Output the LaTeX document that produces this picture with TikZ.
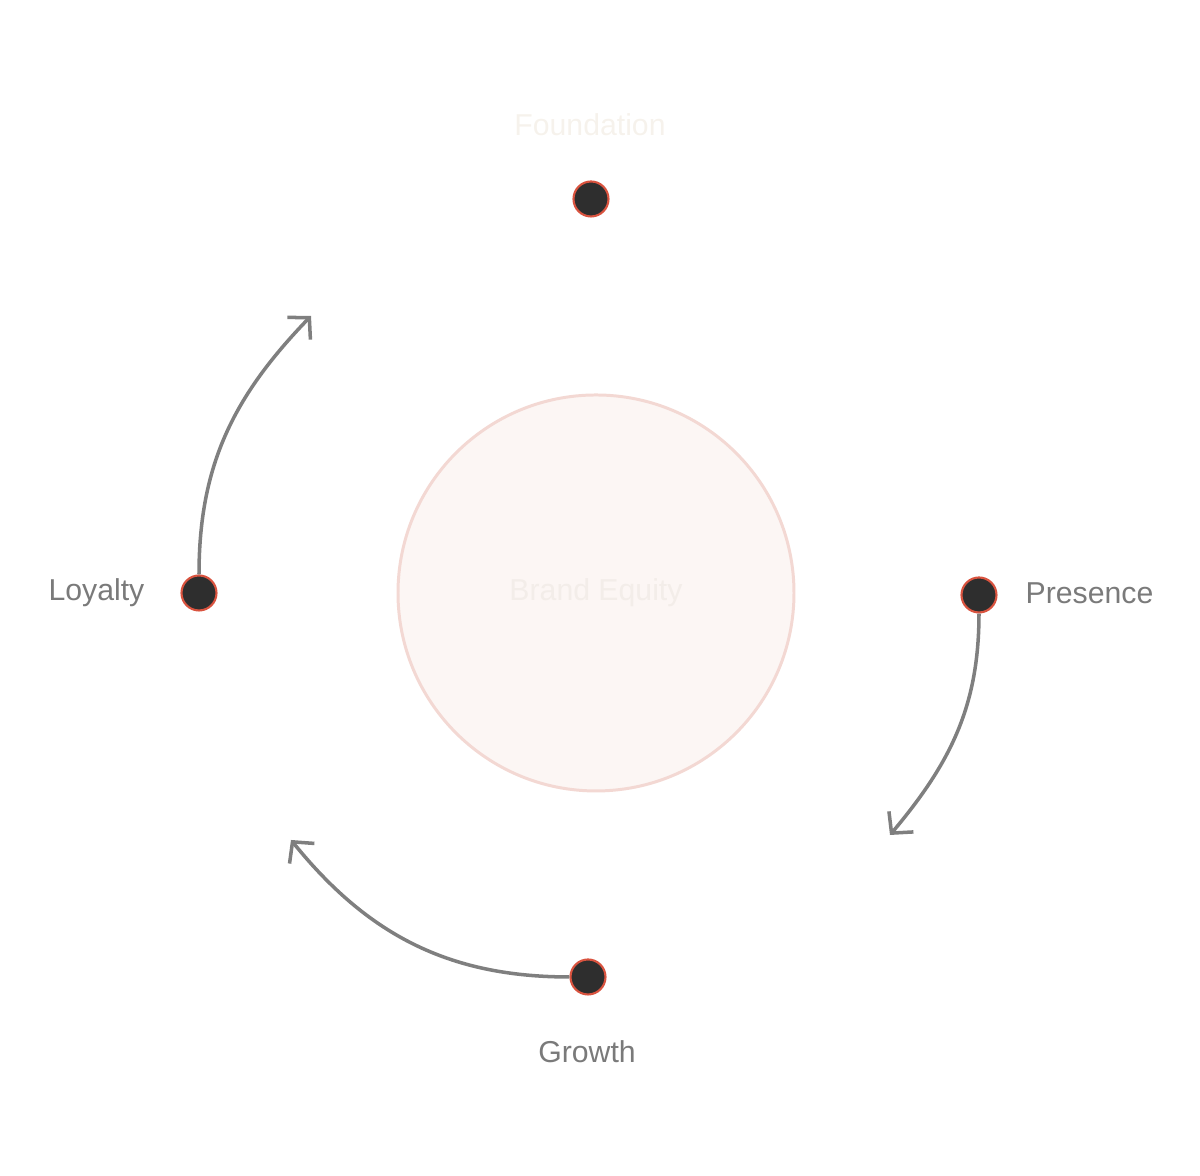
\documentclass[tikz,border=0pt]{standalone}
\usepackage{fontspec}
\setmainfont{Liberation Sans}
\usepackage{xcolor}
\definecolor{dotInk}{HTML}{2E2E2E}
\definecolor{dotRim}{HTML}{D9533F}
\definecolor{hubFill}{HTML}{FCF6F4}
\definecolor{hubRim}{HTML}{F3D8D3}
\definecolor{labelGrey}{HTML}{7A7A7A}
\definecolor{flowGrey}{HTML}{7F7F7F}
\definecolor{ghostTop}{HTML}{F6F2EC}
\definecolor{ghostHub}{HTML}{F3EDE9}
\usepackage{tikz}
\usetikzlibrary{arrows.meta}

\begin{document}
\begin{tikzpicture}[
    stagedot/.style={circle, fill=dotInk, draw=dotRim, line width=0.6pt,
                     minimum size=0.35cm, inner sep=0pt},
    stagetext/.style={text=labelGrey, inner sep=0pt, font=\fontsize{8.6}{10}\selectfont},
    flow/.style={draw=flowGrey, line width=1pt,
                 -{Straight Barb[length=1.5mm, width=3.2mm, line width=1pt]}}]
  \useasboundingbox (0,0) rectangle (12,11.76);

  % ---------------- the hub ----------------
  \node[circle, fill=hubFill, draw=hubRim, line width=0.85pt, minimum size=3.96cm,
        inner sep=0pt, text=ghostHub, font=\fontsize{8.6}{10}\selectfont]
    (hub) at (5.96,5.83) {Brand Equity};

  % ---------------- the four stages ----------------
  \node[stagedot] (foundation) at (5.91,9.77) {};
  \node[stagedot] (presence)   at (9.79,5.81) {};
  \node[stagedot] (growth)     at (5.88,1.99) {};
  \node[stagedot] (loyalty)    at (1.99,5.83) {};

  \node[stagetext, text=ghostTop] (foundationlbl) at (5.90,10.51) {Foundation};
  \node[stagetext, anchor=west]   (presencelbl)   at (10.25,5.83) {Presence};
  \node[stagetext]                (growthlbl)     at (5.87,1.24) {Growth};
  \node[stagetext, anchor=east]   (loyaltylbl)    at (1.45,5.83) {Loyalty};

  % ---------------- the flows ----------------
  \coordinate (presenceend) at (8.90,3.41);
  \coordinate (growthend)   at (2.91,3.36);
  \coordinate (loyaltyend)  at (3.11,8.60);

  \draw[flow] (presence.south) to[out=-90, in=50]  (presenceend);
  \draw[flow] (growth.west)    to[out=180, in=-51] (growthend);
  \draw[flow] (loyalty.north)  to[out=90,  in=-134] (loyaltyend);
\end{tikzpicture}
\end{document}
